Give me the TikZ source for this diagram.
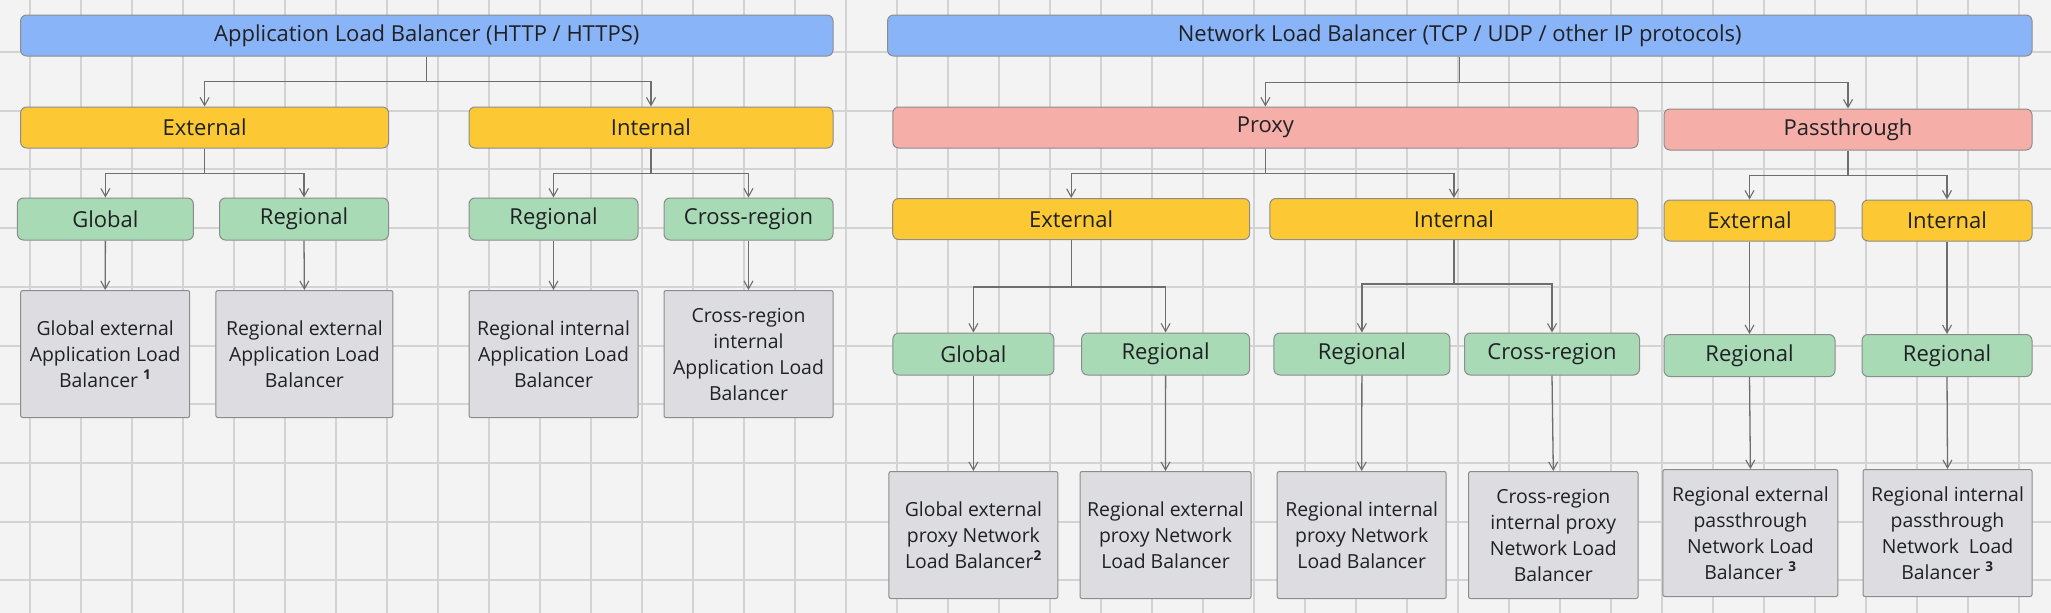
\documentclass[tikz,border=0pt]{standalone}
\usepackage{fontspec}
\setmainfont{Open Sans}
\usetikzlibrary{arrows.meta,calc}
\definecolor{bg}{RGB}{244,243,244}
\definecolor{gridc}{RGB}{212,211,212}
\definecolor{cblue}{RGB}{138,180,248}
\definecolor{cyellow}{RGB}{252,201,52}
\definecolor{cpink}{RGB}{246,174,169}
\definecolor{cgreen}{RGB}{168,218,181}
\definecolor{cgray}{RGB}{220,220,225}
\definecolor{boxline}{RGB}{140,140,140}
\definecolor{linec}{RGB}{110,110,110}
\definecolor{txt}{RGB}{32,33,36}
\tikzset{
  box/.style={draw=boxline, line width=1pt, rounded corners=6pt, inner sep=0pt,
    align=center, text=txt, font=\fontsize{22}{26}\selectfont},
  bluebox/.style={box, fill=cblue, minimum height=41pt},
  yelbox/.style={box, fill=cyellow, minimum height=41pt},
  pinkbox/.style={box, fill=cpink, minimum height=41pt},
  greenbox/.style={box, fill=cgreen, minimum height=42pt},
  graybox/.style={box, fill=cgray, rounded corners=2pt, minimum height=127pt,
    font=\fontsize{19.4}{26}\selectfont},
  conn/.style={draw=linec, line width=1.3pt},
  arr/.style={conn, -{Straight Barb[length=8pt,width=9pt,line width=1.1pt]}},
  gridv/.style={draw=gridc, line width=1.2pt},
  gridh/.style={draw=gridc, line width=2pt},
}
\newcommand{\sups}[1]{\textsuperscript{\bfseries #1}}
\begin{document}
\begin{tikzpicture}[x=1pt,y=-1pt]
\fill[bg] (0,0) rectangle (2051,613);
\useasboundingbox (0,0) rectangle (2051,613);
\foreach \i in {0,...,39} \draw[gridv] ({30+51*\i},0) -- ({30+51*\i},613);
\foreach \j in {0,...,9} \draw[gridh] (0,{52+58.7*\j}) -- (2051,{52+58.7*\j});

% level 0
\node[bluebox, minimum width=812.5pt] (alb) at (426.8,35.5) {Application Load Balancer (HTTP / HTTPS)};
\node[bluebox, minimum width=1144.5pt] (nlb) at (1459.8,35.5) {Network Load Balancer (TCP / UDP / other IP protocols)};

% level 1
\node[yelbox, minimum width=368pt] (aext) at (204.6,127.5) {External};
\node[yelbox, minimum width=364pt] (aint) at (651,127.5) {Internal};
\node[pinkbox, minimum width=745.3pt] (proxy) at (1265.4,127.5) {Proxy};
\node[pinkbox, minimum width=368pt] (pass) at (1848,129.5) {Passthrough};

% level 2
\node[greenbox, minimum width=176pt] (aglob) at (105.4,219) {Global};
\node[greenbox, minimum width=169pt] (areg) at (304,219) {Regional};
\node[greenbox, minimum width=169pt] (aireg) at (553.5,219) {Regional};
\node[greenbox, minimum width=169pt] (aicross) at (748.5,219) {Cross-region};
\node[yelbox, minimum width=357pt] (pext) at (1071.2,219) {External};
\node[yelbox, minimum width=368pt] (pint) at (1453.9,219) {Internal};
\node[yelbox, minimum width=171pt] (sext) at (1749.5,220.5) {External};
\node[yelbox, minimum width=170pt] (sint) at (1947,220.5) {Internal};

% level 3
\node[greenbox, minimum width=161pt] (pglob) at (973.4,354) {Global};
\node[greenbox, minimum width=168pt] (preg) at (1165.6,354) {Regional};
\node[greenbox, minimum width=176pt] (pireg) at (1361.9,354) {Regional};
\node[greenbox, minimum width=175pt] (picross) at (1552,354) {Cross-region};
\node[greenbox, minimum width=171pt] (sreg) at (1749.5,355.5) {Regional};
\node[greenbox, minimum width=170pt] (sireg) at (1947,355.5) {Regional};

% ALB leaves
\node[graybox, minimum width=169pt] (g1) at (105.2,354) {Global external\\Application Load\\Balancer \sups{1}};
\node[graybox, minimum width=177pt] (g2) at (304.4,354) {Regional external\\Application Load\\Balancer};
\node[graybox, minimum width=169pt] (g3) at (553.5,354) {Regional internal\\Application Load\\Balancer};
\node[graybox, minimum width=169pt] (g4) at (748.5,354) {Cross-region\\internal\\Application Load\\Balancer};

% NLB leaves
\node[graybox, minimum width=169pt] (h1) at (973.4,535) {Global external\\proxy Network\\Load Balancer\sups{2}};
\node[graybox, minimum width=171pt] (h2) at (1165.5,535) {Regional external\\proxy Network\\Load Balancer};
\node[graybox, minimum width=169pt] (h3) at (1361.7,535) {Regional internal\\proxy Network\\Load Balancer};
\node[graybox, minimum width=169.5pt] (h4) at (1553.3,535) {Cross-region\\internal proxy\\Network Load\\Balancer};
\node[graybox, minimum width=175pt] (h5) at (1750.4,533) {Regional external\\passthrough\\Network Load\\Balancer \sups{3}};
\node[graybox, minimum width=169pt] (h6) at (1947.5,533) {Regional internal\\passthrough\\Network\hspace{0.5em}Load\\Balancer \sups{3}};

% connectors: trees
\path (alb.south) ++(0,25) coordinate (jalb);
\draw[conn] (alb.south) -- (jalb);
\draw[arr] (jalb) -| (aext.north);
\draw[arr] (jalb) -| (aint.north);

\path (nlb.south) ++(0,26) coordinate (jnlb);
\draw[conn] (nlb.south) -- (jnlb);
\draw[arr] (jnlb) -| (proxy.north);
\draw[arr] (jnlb) -| (pass.north);

\path (aext.south) ++(0,25) coordinate (jaext);
\draw[conn] (aext.south) -- (jaext);
\draw[arr] (jaext) -| (aglob.north);
\draw[arr] (jaext) -| (areg.north);

\path (aint.south) ++(0,25) coordinate (jaint);
\draw[conn] (aint.south) -- (jaint);
\draw[arr] (jaint) -| (aireg.north);
\draw[arr] (jaint) -| (aicross.north);

\path (proxy.south) ++(0,25) coordinate (jproxy);
\draw[conn] (proxy.south) -- (jproxy);
\draw[arr] (jproxy) -| (pext.north);
\draw[arr] (jproxy) -| (pint.north);

\path (pass.south) ++(0,25) coordinate (jpass);
\draw[conn] (pass.south) -- (jpass);
\draw[arr] (jpass) -| (sext.north);
\draw[arr] (jpass) -| (sint.north);

\path (pext.south) ++(0,47) coordinate (jpext);
\draw[conn] (pext.south) -- (jpext);
\draw[arr] (jpext) -| (pglob.north);
\draw[arr] (jpext) -| (preg.north);

\path (pint.south) ++(0,44) coordinate (jpint);
\draw[conn] (pint.south) -- (jpint);
\draw[arr] (jpint) -| (pireg.north);
\draw[arr] (jpint) -| (picross.north);

% straight connectors
\draw[arr] (sext.south) -- (sreg.north);
\draw[arr] (sint.south) -- (sireg.north);
\draw[arr] (aglob.south) -- (g1.north);
\draw[arr] (areg.south) -- (g2.north);
\draw[arr] (aireg.south) -- (g3.north);
\draw[arr] (aicross.south) -- (g4.north);
\draw[arr] (pglob.south) -- (h1.north);
\draw[arr] (preg.south) -- (h2.north);
\draw[arr] (pireg.south) -- (h3.north);
\draw[arr] (picross.south) -- (h4.north);
\draw[arr] (sreg.south) -- (h5.north);
\draw[arr] (sireg.south) -- (h6.north);
\end{tikzpicture}
\end{document}
